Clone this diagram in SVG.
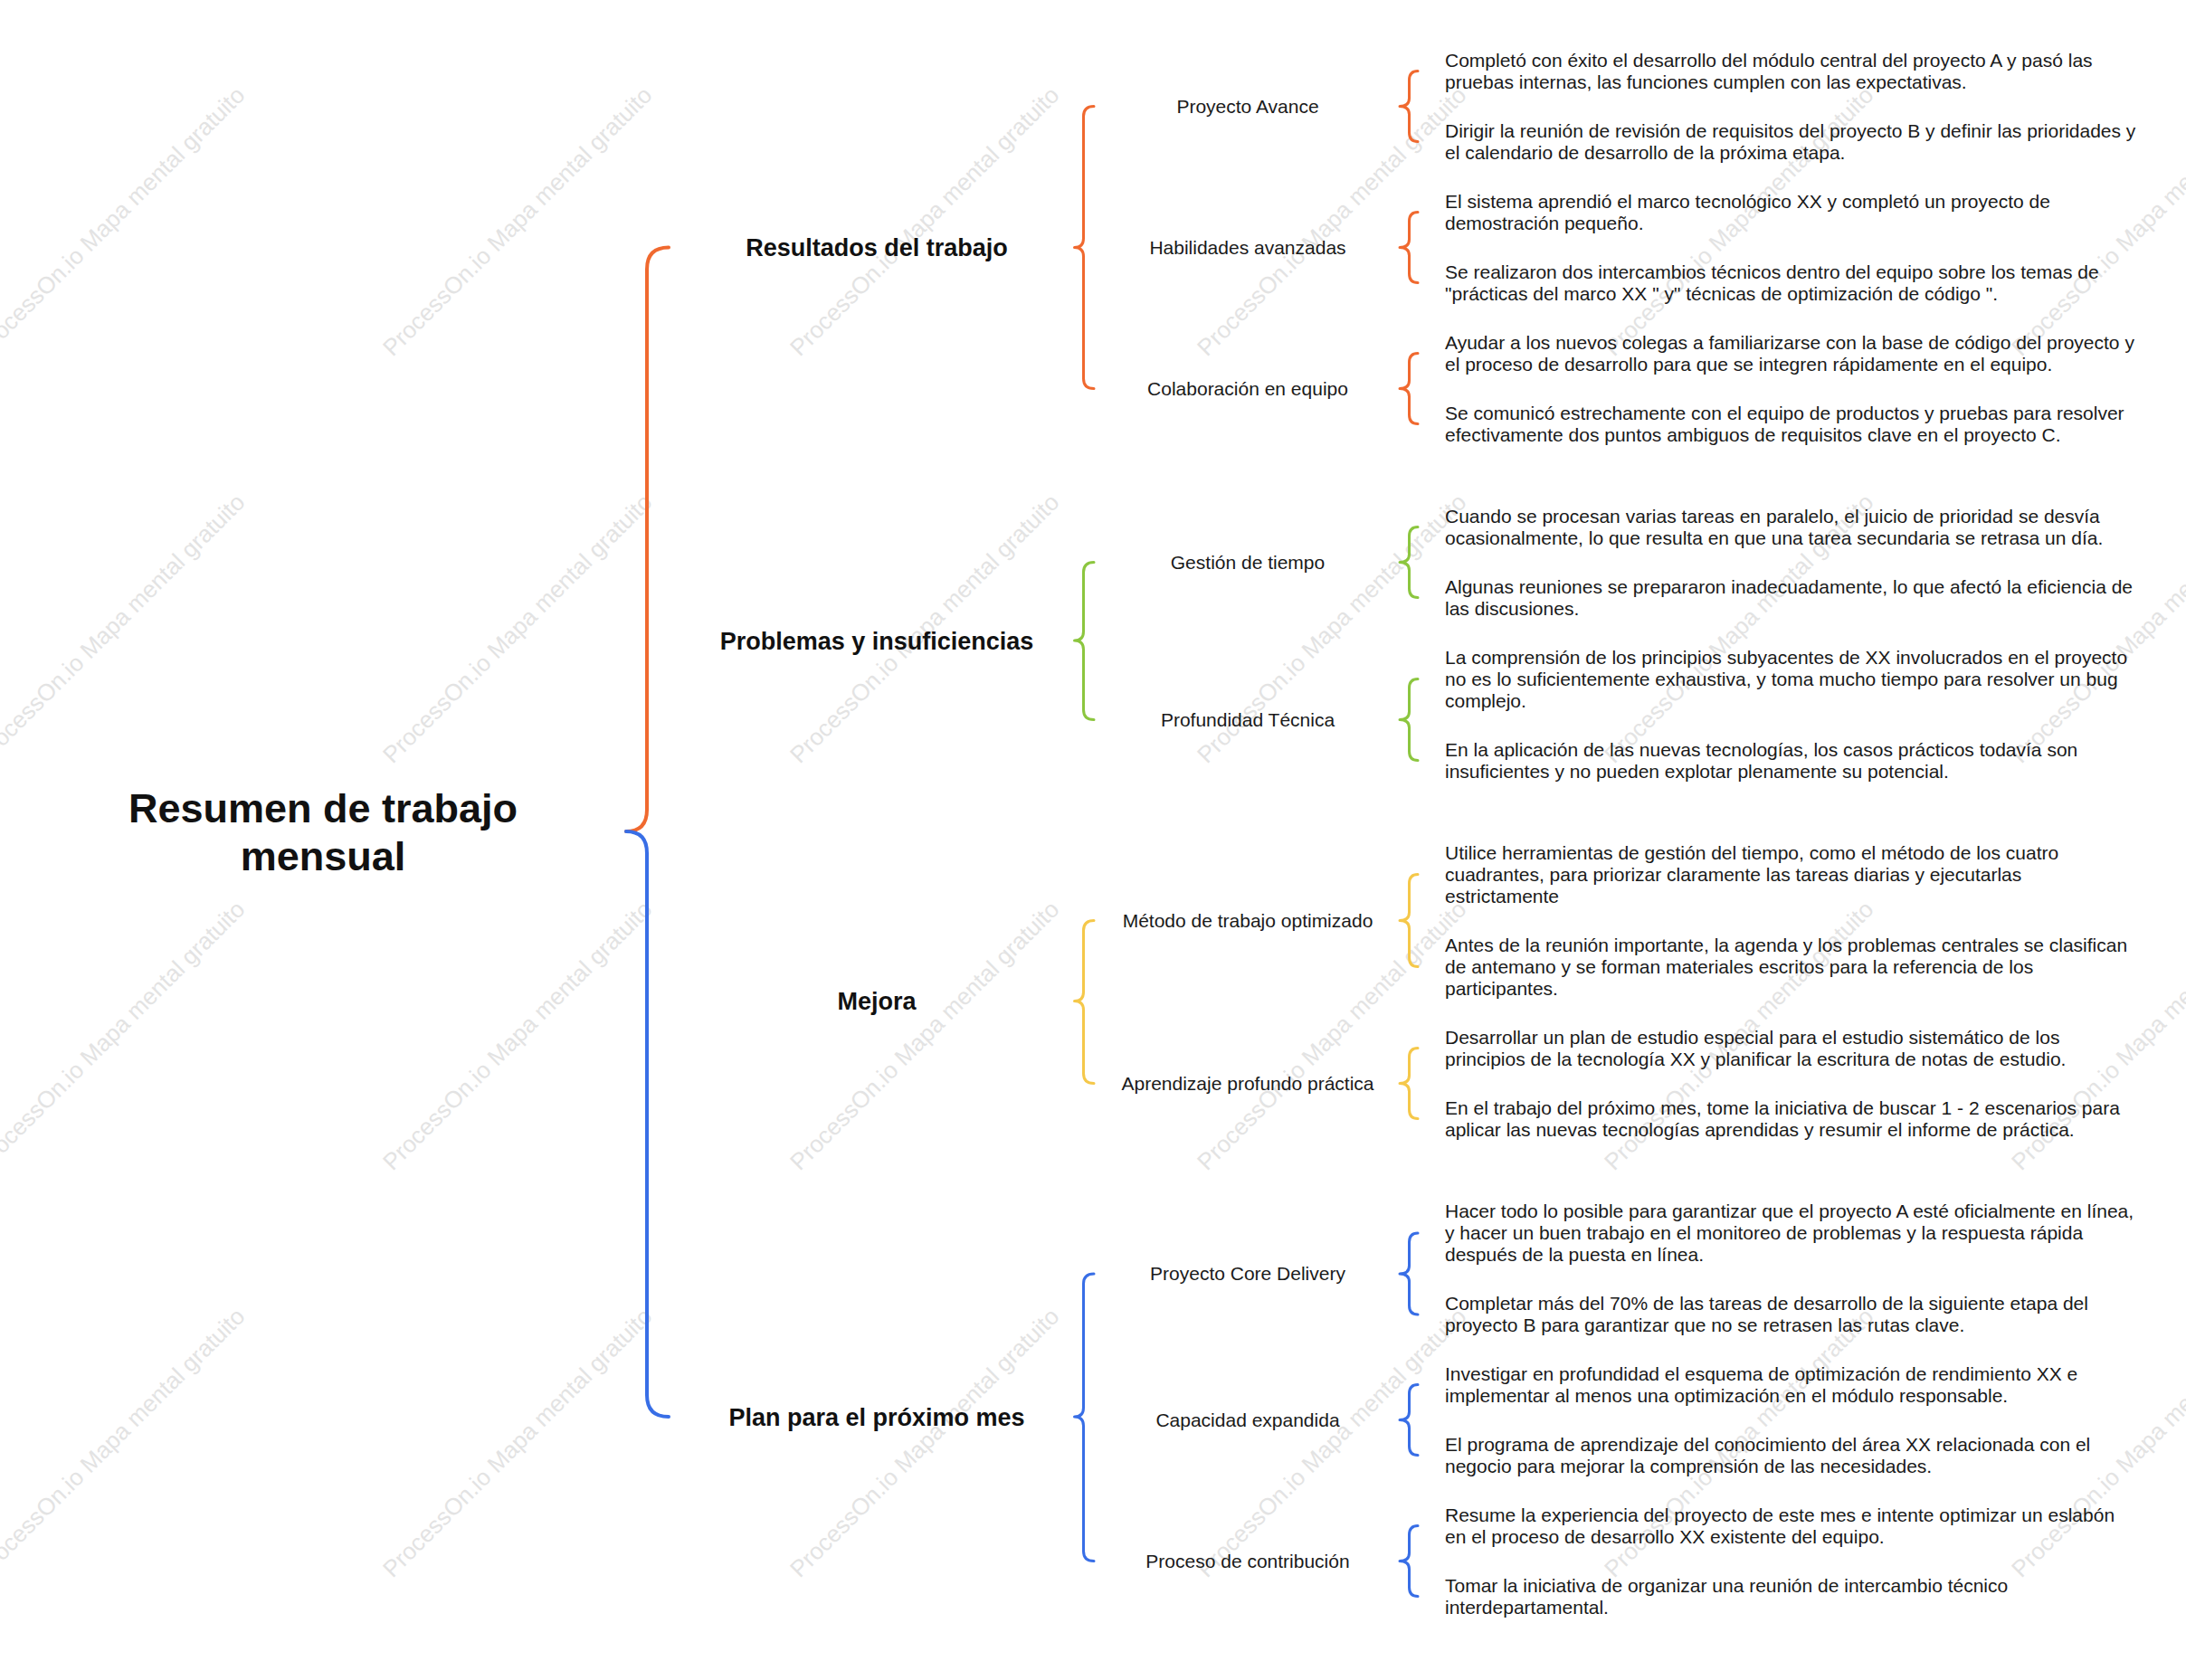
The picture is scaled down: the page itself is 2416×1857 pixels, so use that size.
<svg xmlns="http://www.w3.org/2000/svg" width="2416" height="1857" viewBox="0 0 2416 1857">
<style>
text{font-family:"Liberation Sans",Arial,"Noto Sans",sans-serif;}
.wm{font-size:26px;fill:#e3e3e3;}
.root{font-size:45px;font-weight:bold;fill:#111;text-anchor:middle;}
.l1{font-size:27px;font-weight:bold;fill:#111;text-anchor:middle;}
.l2{font-size:21px;fill:#1a1a1a;text-anchor:middle;}
.leaf{font-size:21px;fill:#1a1a1a;}
.br{fill:none;stroke-linecap:round;stroke-linejoin:round;}
.main{stroke-width:4;}
.sub{stroke-width:3;}
.o{stroke:#F0692F;}
.g{stroke:#8CC63F;}
.y{stroke:#F5C84A;}
.b{stroke:#386EE6;}
</style>
<rect width="2416" height="1857" fill="#fff"/>
<g id="watermarks">
<text class="wm" transform="translate(-16,395) rotate(-45)">ProcessOn.io Mapa mental gratuito</text>
<text class="wm" transform="translate(434,395) rotate(-45)">ProcessOn.io Mapa mental gratuito</text>
<text class="wm" transform="translate(884,395) rotate(-45)">ProcessOn.io Mapa mental gratuito</text>
<text class="wm" transform="translate(1334,395) rotate(-45)">ProcessOn.io Mapa mental gratuito</text>
<text class="wm" transform="translate(1784,395) rotate(-45)">ProcessOn.io Mapa mental gratuito</text>
<text class="wm" transform="translate(2234,395) rotate(-45)">ProcessOn.io Mapa mental gratuito</text>
<text class="wm" transform="translate(-16,845) rotate(-45)">ProcessOn.io Mapa mental gratuito</text>
<text class="wm" transform="translate(434,845) rotate(-45)">ProcessOn.io Mapa mental gratuito</text>
<text class="wm" transform="translate(884,845) rotate(-45)">ProcessOn.io Mapa mental gratuito</text>
<text class="wm" transform="translate(1334,845) rotate(-45)">ProcessOn.io Mapa mental gratuito</text>
<text class="wm" transform="translate(1784,845) rotate(-45)">ProcessOn.io Mapa mental gratuito</text>
<text class="wm" transform="translate(2234,845) rotate(-45)">ProcessOn.io Mapa mental gratuito</text>
<text class="wm" transform="translate(-16,1295) rotate(-45)">ProcessOn.io Mapa mental gratuito</text>
<text class="wm" transform="translate(434,1295) rotate(-45)">ProcessOn.io Mapa mental gratuito</text>
<text class="wm" transform="translate(884,1295) rotate(-45)">ProcessOn.io Mapa mental gratuito</text>
<text class="wm" transform="translate(1334,1295) rotate(-45)">ProcessOn.io Mapa mental gratuito</text>
<text class="wm" transform="translate(1784,1295) rotate(-45)">ProcessOn.io Mapa mental gratuito</text>
<text class="wm" transform="translate(2234,1295) rotate(-45)">ProcessOn.io Mapa mental gratuito</text>
<text class="wm" transform="translate(-16,1745) rotate(-45)">ProcessOn.io Mapa mental gratuito</text>
<text class="wm" transform="translate(434,1745) rotate(-45)">ProcessOn.io Mapa mental gratuito</text>
<text class="wm" transform="translate(884,1745) rotate(-45)">ProcessOn.io Mapa mental gratuito</text>
<text class="wm" transform="translate(1334,1745) rotate(-45)">ProcessOn.io Mapa mental gratuito</text>
<text class="wm" transform="translate(1784,1745) rotate(-45)">ProcessOn.io Mapa mental gratuito</text>
<text class="wm" transform="translate(2234,1745) rotate(-45)">ProcessOn.io Mapa mental gratuito</text>
</g>
<g id="connectors">
<path class="br main o" d="M739,273.5 Q715,273.5 715,297.5 L715,895 Q715,919 692,919"/>
<path class="br main b" d="M692,919 Q715,919 715,943 L715,1542 Q715,1566 739,1566"/>
<path class="br sub o" d="M1209,117.5 Q1197.5,117.5 1197.5,128.5 L1197.5,263.5 Q1197.5,273.5 1187.5,273.5 Q1197.5,273.5 1197.5,283.5 L1197.5,418.5 Q1197.5,429.5 1209,429.5"/>
<path class="br sub g" d="M1209,621.5 Q1197.5,621.5 1197.5,632.5 L1197.5,698 Q1197.5,708 1187.5,708 Q1197.5,708 1197.5,718 L1197.5,784.5 Q1197.5,795.5 1209,795.5"/>
<path class="br sub y" d="M1209,1017.5 Q1197.5,1017.5 1197.5,1028.5 L1197.5,1096.5 Q1197.5,1106.5 1187.5,1106.5 Q1197.5,1106.5 1197.5,1116.5 L1197.5,1186.5 Q1197.5,1197.5 1209,1197.5"/>
<path class="br sub b" d="M1209,1408 Q1197.5,1408 1197.5,1419 L1197.5,1556 Q1197.5,1566 1187.5,1566 Q1197.5,1566 1197.5,1576 L1197.5,1714.5 Q1197.5,1725.5 1209,1725.5"/>
<path class="br sub o" d="M1567,78.5 Q1557.5,78.5 1557.5,88.5 L1557.5,108.5 Q1557.5,117.5 1547,117.5 Q1557.5,117.5 1557.5,126.5 L1557.5,146.5 Q1557.5,156.5 1567,156.5"/>
<path class="br sub o" d="M1567,234.5 Q1557.5,234.5 1557.5,244.5 L1557.5,264.5 Q1557.5,273.5 1547,273.5 Q1557.5,273.5 1557.5,282.5 L1557.5,302.5 Q1557.5,312.5 1567,312.5"/>
<path class="br sub o" d="M1567,390.5 Q1557.5,390.5 1557.5,400.5 L1557.5,420.5 Q1557.5,429.5 1547,429.5 Q1557.5,429.5 1557.5,438.5 L1557.5,458.5 Q1557.5,468.5 1567,468.5"/>
<path class="br sub g" d="M1567,582.5 Q1557.5,582.5 1557.5,592.5 L1557.5,612.5 Q1557.5,621.5 1547,621.5 Q1557.5,621.5 1557.5,630.5 L1557.5,650.5 Q1557.5,660.5 1567,660.5"/>
<path class="br sub g" d="M1567,750.5 Q1557.5,750.5 1557.5,760.5 L1557.5,786.5 Q1557.5,795.5 1547,795.5 Q1557.5,795.5 1557.5,804.5 L1557.5,830.5 Q1557.5,840.5 1567,840.5"/>
<path class="br sub y" d="M1567,966.5 Q1557.5,966.5 1557.5,976.5 L1557.5,1008.5 Q1557.5,1017.5 1547,1017.5 Q1557.5,1017.5 1557.5,1026.5 L1557.5,1058.5 Q1557.5,1068.5 1567,1068.5"/>
<path class="br sub y" d="M1567,1158.5 Q1557.5,1158.5 1557.5,1168.5 L1557.5,1188.5 Q1557.5,1197.5 1547,1197.5 Q1557.5,1197.5 1557.5,1206.5 L1557.5,1226.5 Q1557.5,1236.5 1567,1236.5"/>
<path class="br sub b" d="M1567,1363 Q1557.5,1363 1557.5,1373 L1557.5,1399 Q1557.5,1408 1547,1408 Q1557.5,1408 1557.5,1417 L1557.5,1443 Q1557.5,1453 1567,1453"/>
<path class="br sub b" d="M1567,1530.5 Q1557.5,1530.5 1557.5,1540.5 L1557.5,1560.5 Q1557.5,1569.5 1547,1569.5 Q1557.5,1569.5 1557.5,1578.5 L1557.5,1598.5 Q1557.5,1608.5 1567,1608.5"/>
<path class="br sub b" d="M1567,1686.5 Q1557.5,1686.5 1557.5,1696.5 L1557.5,1716.5 Q1557.5,1725.5 1547,1725.5 Q1557.5,1725.5 1557.5,1734.5 L1557.5,1754.5 Q1557.5,1764.5 1567,1764.5"/>
</g>
<g id="root"><text class="root" x="357" y="908.5">Resumen de trabajo<tspan x="357" dy="53.5">mensual</tspan></text></g>
<g id="n-resultados"><text class="l1" x="969" y="283">Resultados del trabajo</text></g>
<g id="n-problemas"><text class="l1" x="969" y="717.5">Problemas y insuficiencias</text></g>
<g id="n-mejora"><text class="l1" x="969" y="1116">Mejora</text></g>
<g id="n-plan"><text class="l1" x="969" y="1575.5">Plan para el próximo mes</text></g>
<g id="n-proyecto-avance"><text class="l2" x="1379" y="124.8">Proyecto Avance</text></g>
<g id="n-habilidades"><text class="l2" x="1379" y="280.8">Habilidades avanzadas</text></g>
<g id="n-colaboracion"><text class="l2" x="1379" y="436.8">Colaboración en equipo</text></g>
<g id="n-gestion"><text class="l2" x="1379" y="628.8">Gestión de tiempo</text></g>
<g id="n-profundidad"><text class="l2" x="1379" y="802.8">Profundidad Técnica</text></g>
<g id="n-metodo"><text class="l2" x="1379" y="1024.8">Método de trabajo optimizado</text></g>
<g id="n-aprendizaje"><text class="l2" x="1379" y="1204.8">Aprendizaje profundo práctica</text></g>
<g id="n-core"><text class="l2" x="1379" y="1415.3">Proyecto Core Delivery</text></g>
<g id="n-capacidad"><text class="l2" x="1379" y="1576.8">Capacidad expandida</text></g>
<g id="n-proceso"><text class="l2" x="1379" y="1732.8">Proceso de contribución</text></g>
<g id="leaf-pa1"><text class="leaf" x="1597" y="74">Completó con éxito el desarrollo del módulo central del proyecto A y pasó las<tspan x="1597" dy="24">pruebas internas, las funciones cumplen con las expectativas.</tspan></text></g>
<g id="leaf-pa2"><text class="leaf" x="1597" y="151.9">Dirigir la reunión de revisión de requisitos del proyecto B y definir las prioridades y<tspan x="1597" dy="24">el calendario de desarrollo de la próxima etapa.</tspan></text></g>
<g id="leaf-ha1"><text class="leaf" x="1597" y="229.9">El sistema aprendió el marco tecnológico XX y completó un proyecto de<tspan x="1597" dy="24">demostración pequeño.</tspan></text></g>
<g id="leaf-ha2"><text class="leaf" x="1597" y="307.9">Se realizaron dos intercambios técnicos dentro del equipo sobre los temas de<tspan x="1597" dy="24">"prácticas del marco XX " y" técnicas de optimización de código ".</tspan></text></g>
<g id="leaf-ce1"><text class="leaf" x="1597" y="385.9">Ayudar a los nuevos colegas a familiarizarse con la base de código del proyecto y<tspan x="1597" dy="24">el proceso de desarrollo para que se integren rápidamente en el equipo.</tspan></text></g>
<g id="leaf-ce2"><text class="leaf" x="1597" y="463.9">Se comunicó estrechamente con el equipo de productos y pruebas para resolver<tspan x="1597" dy="24">efectivamente dos puntos ambiguos de requisitos clave en el proyecto C.</tspan></text></g>
<g id="leaf-gt1"><text class="leaf" x="1597" y="577.9">Cuando se procesan varias tareas en paralelo, el juicio de prioridad se desvía<tspan x="1597" dy="24">ocasionalmente, lo que resulta en que una tarea secundaria se retrasa un día.</tspan></text></g>
<g id="leaf-gt2"><text class="leaf" x="1597" y="655.9">Algunas reuniones se prepararon inadecuadamente, lo que afectó la eficiencia de<tspan x="1597" dy="24">las discusiones.</tspan></text></g>
<g id="leaf-pt1"><text class="leaf" x="1597" y="733.9">La comprensión de los principios subyacentes de XX involucrados en el proyecto<tspan x="1597" dy="24">no es lo suficientemente exhaustiva, y toma mucho tiempo para resolver un bug</tspan><tspan x="1597" dy="24">complejo.</tspan></text></g>
<g id="leaf-pt2"><text class="leaf" x="1597" y="835.9">En la aplicación de las nuevas tecnologías, los casos prácticos todavía son<tspan x="1597" dy="24">insuficientes y no pueden explotar plenamente su potencial.</tspan></text></g>
<g id="leaf-mt1"><text class="leaf" x="1597" y="949.9">Utilice herramientas de gestión del tiempo, como el método de los cuatro<tspan x="1597" dy="24">cuadrantes, para priorizar claramente las tareas diarias y ejecutarlas</tspan><tspan x="1597" dy="24">estrictamente</tspan></text></g>
<g id="leaf-mt2"><text class="leaf" x="1597" y="1051.9">Antes de la reunión importante, la agenda y los problemas centrales se clasifican<tspan x="1597" dy="24">de antemano y se forman materiales escritos para la referencia de los</tspan><tspan x="1597" dy="24">participantes.</tspan></text></g>
<g id="leaf-ap1"><text class="leaf" x="1597" y="1153.9">Desarrollar un plan de estudio especial para el estudio sistemático de los<tspan x="1597" dy="24">principios de la tecnología XX y planificar la escritura de notas de estudio.</tspan></text></g>
<g id="leaf-ap2"><text class="leaf" x="1597" y="1231.9">En el trabajo del próximo mes, tome la iniciativa de buscar 1 - 2 escenarios para<tspan x="1597" dy="24">aplicar las nuevas tecnologías aprendidas y resumir el informe de práctica.</tspan></text></g>
<g id="leaf-pcd1"><text class="leaf" x="1597" y="1346.4">Hacer todo lo posible para garantizar que el proyecto A esté oficialmente en línea,<tspan x="1597" dy="24">y hacer un buen trabajo en el monitoreo de problemas y la respuesta rápida</tspan><tspan x="1597" dy="24">después de la puesta en línea.</tspan></text></g>
<g id="leaf-pcd2"><text class="leaf" x="1597" y="1448.4">Completar más del 70% de las tareas de desarrollo de la siguiente etapa del<tspan x="1597" dy="24">proyecto B para garantizar que no se retrasen las rutas clave.</tspan></text></g>
<g id="leaf-ca1"><text class="leaf" x="1597" y="1525.9">Investigar en profundidad el esquema de optimización de rendimiento XX e<tspan x="1597" dy="24">implementar al menos una optimización en el módulo responsable.</tspan></text></g>
<g id="leaf-ca2"><text class="leaf" x="1597" y="1603.9">El programa de aprendizaje del conocimiento del área XX relacionada con el<tspan x="1597" dy="24">negocio para mejorar la comprensión de las necesidades.</tspan></text></g>
<g id="leaf-pc1"><text class="leaf" x="1597" y="1681.9">Resume la experiencia del proyecto de este mes e intente optimizar un eslabón<tspan x="1597" dy="24">en el proceso de desarrollo XX existente del equipo.</tspan></text></g>
<g id="leaf-pc2"><text class="leaf" x="1597" y="1759.9">Tomar la iniciativa de organizar una reunión de intercambio técnico<tspan x="1597" dy="24">interdepartamental.</tspan></text></g>
</svg>
